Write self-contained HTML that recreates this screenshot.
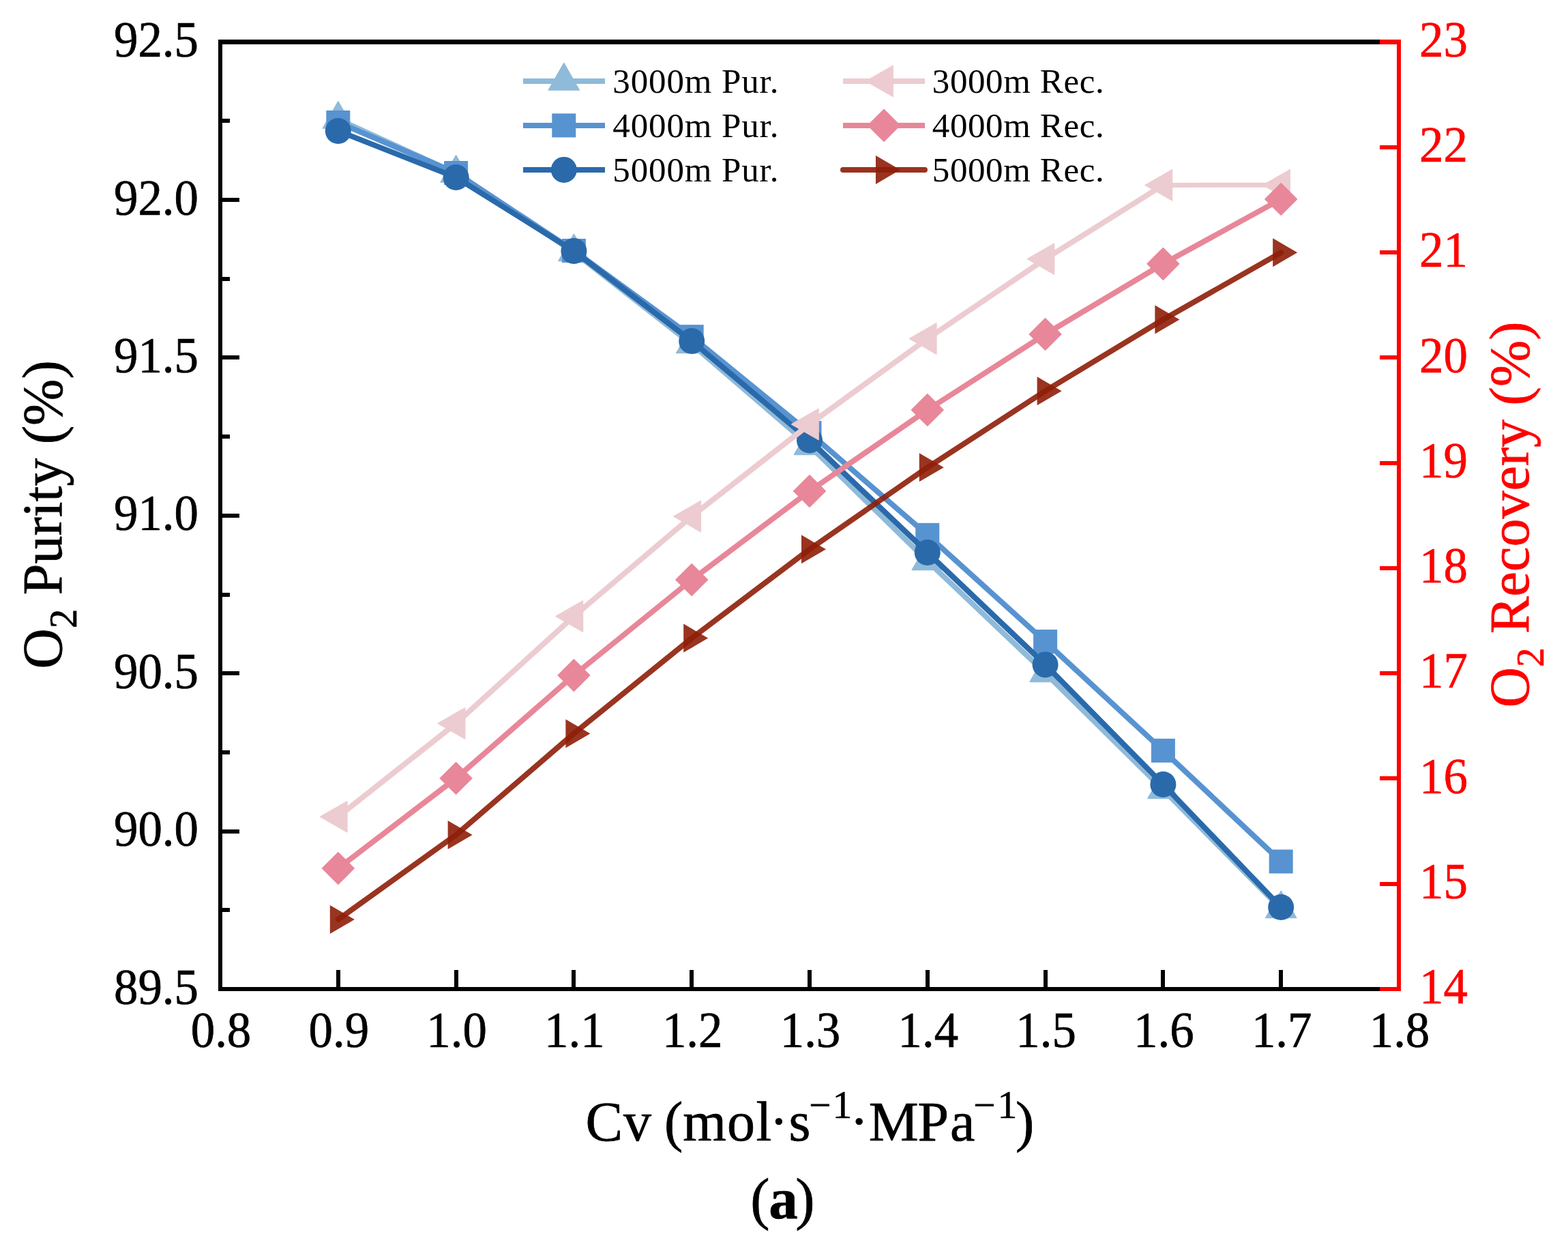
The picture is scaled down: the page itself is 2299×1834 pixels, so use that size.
<!DOCTYPE html>
<html><head><meta charset="utf-8"><title>O2 Purity and Recovery vs Cv</title>
<style>
html,body{margin:0;padding:0;background:#fff;}
svg{display:block;}
text{font-family:"Liberation Serif","Times New Roman",serif;fill:currentColor;stroke:currentColor;stroke-width:0.7px;}
text.lg{stroke:none;}
</style></head>
<body>
<svg width="2299" height="1834" viewBox="0 0 2299 1834">
<rect width="2299" height="1834" fill="#fff"/>
<g id="series">
<polyline points="495.8,175 668.6,254 841.4,369.5 1014.2,504.5 1187,653.3 1359.8,822.5 1532.6,986.5 1705.4,1157.5 1878.2,1332.5" fill="none" stroke="#8fbad9" stroke-width="8.0" stroke-linejoin="round"/>
<polygon points="495.8,148.8 473.3,188.1 518.3,188.1" fill="#8fbad9" stroke="#8fbad9" stroke-width="1.5" stroke-linejoin="round"/>
<polygon points="668.6,227.8 646.1,267.1 691.1,267.1" fill="#8fbad9" stroke="#8fbad9" stroke-width="1.5" stroke-linejoin="round"/>
<polygon points="841.4,343.3 818.9,382.6 863.9,382.6" fill="#8fbad9" stroke="#8fbad9" stroke-width="1.5" stroke-linejoin="round"/>
<polygon points="1014.2,478.3 991.7,517.6 1036.7,517.6" fill="#8fbad9" stroke="#8fbad9" stroke-width="1.5" stroke-linejoin="round"/>
<polygon points="1187,627.1 1164.5,666.4 1209.5,666.4" fill="#8fbad9" stroke="#8fbad9" stroke-width="1.5" stroke-linejoin="round"/>
<polygon points="1359.8,796.3 1337.3,835.6 1382.3,835.6" fill="#8fbad9" stroke="#8fbad9" stroke-width="1.5" stroke-linejoin="round"/>
<polygon points="1532.6,960.3 1510.1,999.6 1555.1,999.6" fill="#8fbad9" stroke="#8fbad9" stroke-width="1.5" stroke-linejoin="round"/>
<polygon points="1705.4,1131.3 1682.9,1170.6 1727.9,1170.6" fill="#8fbad9" stroke="#8fbad9" stroke-width="1.5" stroke-linejoin="round"/>
<polygon points="1878.2,1306.3 1855.7,1345.6 1900.7,1345.6" fill="#8fbad9" stroke="#8fbad9" stroke-width="1.5" stroke-linejoin="round"/>
<polyline points="495.8,179.5 668.6,253.5 841.4,367.5 1014.2,493.6 1187,634.6 1359.8,784.3 1532.6,940.5 1705.4,1100.4 1878.2,1263" fill="none" stroke="#5893d1" stroke-width="8.0" stroke-linejoin="round"/>
<rect x="478.3" y="162" width="35" height="35" fill="#5893d1"/>
<rect x="651.1" y="236" width="35" height="35" fill="#5893d1"/>
<rect x="823.9" y="350" width="35" height="35" fill="#5893d1"/>
<rect x="996.7" y="476.1" width="35" height="35" fill="#5893d1"/>
<rect x="1169.5" y="617.1" width="35" height="35" fill="#5893d1"/>
<rect x="1342.3" y="766.8" width="35" height="35" fill="#5893d1"/>
<rect x="1515.1" y="923" width="35" height="35" fill="#5893d1"/>
<rect x="1687.9" y="1082.9" width="35" height="35" fill="#5893d1"/>
<rect x="1860.7" y="1245.5" width="35" height="35" fill="#5893d1"/>
<polyline points="495.8,192 668.6,260 841.4,368 1014.2,500 1187,645.5 1359.8,810 1532.6,974.4 1705.4,1150 1878.2,1330" fill="none" stroke="#2a6aab" stroke-width="8.0" stroke-linejoin="round"/>
<circle cx="495.8" cy="192" r="19" fill="#2a6aab"/>
<circle cx="668.6" cy="260" r="19" fill="#2a6aab"/>
<circle cx="841.4" cy="368" r="19" fill="#2a6aab"/>
<circle cx="1014.2" cy="500" r="19" fill="#2a6aab"/>
<circle cx="1187" cy="645.5" r="19" fill="#2a6aab"/>
<circle cx="1359.8" cy="810" r="19" fill="#2a6aab"/>
<circle cx="1532.6" cy="974.4" r="19" fill="#2a6aab"/>
<circle cx="1705.4" cy="1150" r="19" fill="#2a6aab"/>
<circle cx="1878.2" cy="1330" r="19" fill="#2a6aab"/>
<polyline points="495.8,1197.3 668.6,1060.5 841.4,903.5 1014.2,757 1187,622 1359.8,496.5 1532.6,379.7 1705.4,271.4" fill="none" stroke="#ecccd0" stroke-width="8.0" stroke-linejoin="round"/>
<line x1="1705.4" y1="271.4" x2="1878.2" y2="271.3" stroke="#ecccd0" stroke-width="7"/>
<polygon points="469.6,1197.3 508.9,1174.8 508.9,1219.8" fill="#ecccd0" stroke="#ecccd0" stroke-width="1.5" stroke-linejoin="round"/>
<polygon points="642.4,1060.5 681.7,1038 681.7,1083" fill="#ecccd0" stroke="#ecccd0" stroke-width="1.5" stroke-linejoin="round"/>
<polygon points="815.2,903.5 854.5,881 854.5,926" fill="#ecccd0" stroke="#ecccd0" stroke-width="1.5" stroke-linejoin="round"/>
<polygon points="988,757 1027.3,734.5 1027.3,779.5" fill="#ecccd0" stroke="#ecccd0" stroke-width="1.5" stroke-linejoin="round"/>
<polygon points="1160.8,622 1200.1,599.5 1200.1,644.5" fill="#ecccd0" stroke="#ecccd0" stroke-width="1.5" stroke-linejoin="round"/>
<polygon points="1333.6,496.5 1372.9,474 1372.9,519" fill="#ecccd0" stroke="#ecccd0" stroke-width="1.5" stroke-linejoin="round"/>
<polygon points="1506.4,379.7 1545.7,357.2 1545.7,402.2" fill="#ecccd0" stroke="#ecccd0" stroke-width="1.5" stroke-linejoin="round"/>
<polygon points="1679.2,271.4 1718.5,248.9 1718.5,293.9" fill="#ecccd0" stroke="#ecccd0" stroke-width="1.5" stroke-linejoin="round"/>
<polygon points="1852,271.3 1891.3,248.8 1891.3,293.8" fill="#ecccd0" stroke="#ecccd0" stroke-width="1.5" stroke-linejoin="round"/>
<polyline points="495.8,1273 668.6,1141 841.4,990 1014.2,850 1187,720 1359.8,601 1532.6,490 1705.4,386.8 1878.2,292" fill="none" stroke="#e88799" stroke-width="8.0" stroke-linejoin="round"/>
<polygon points="495.8,1249.7 519.1,1273 495.8,1296.3 472.5,1273" fill="#e88799" stroke="#e88799" stroke-width="1.5" stroke-linejoin="round"/>
<polygon points="668.6,1117.7 691.9,1141 668.6,1164.3 645.3,1141" fill="#e88799" stroke="#e88799" stroke-width="1.5" stroke-linejoin="round"/>
<polygon points="841.4,966.7 864.7,990 841.4,1013.3 818.1,990" fill="#e88799" stroke="#e88799" stroke-width="1.5" stroke-linejoin="round"/>
<polygon points="1014.2,826.7 1037.5,850 1014.2,873.3 990.9,850" fill="#e88799" stroke="#e88799" stroke-width="1.5" stroke-linejoin="round"/>
<polygon points="1187,696.7 1210.3,720 1187,743.3 1163.7,720" fill="#e88799" stroke="#e88799" stroke-width="1.5" stroke-linejoin="round"/>
<polygon points="1359.8,577.7 1383.1,601 1359.8,624.3 1336.5,601" fill="#e88799" stroke="#e88799" stroke-width="1.5" stroke-linejoin="round"/>
<polygon points="1532.6,466.7 1555.9,490 1532.6,513.3 1509.3,490" fill="#e88799" stroke="#e88799" stroke-width="1.5" stroke-linejoin="round"/>
<polygon points="1705.4,363.5 1728.7,386.8 1705.4,410.1 1682.1,386.8" fill="#e88799" stroke="#e88799" stroke-width="1.5" stroke-linejoin="round"/>
<polygon points="1878.2,268.7 1901.5,292 1878.2,315.3 1854.9,292" fill="#e88799" stroke="#e88799" stroke-width="1.5" stroke-linejoin="round"/>
<polyline points="495.8,1348 668.6,1224 841.4,1075.4 1014.2,935.6 1187,805.3 1359.8,685.3 1532.6,573.2 1705.4,468.5 1878.2,370.3" fill="none" stroke="#8e1e08" stroke-width="8.0" stroke-linejoin="round" stroke-linecap="round" opacity="0.9"/>
<polygon points="519.8,1348 483.8,1327 483.8,1369" fill="#8e1e08" opacity="0.9"/>
<polygon points="692.6,1224 656.6,1203 656.6,1245" fill="#8e1e08" opacity="0.9"/>
<polygon points="865.4,1075.4 829.4,1054.4 829.4,1096.4" fill="#8e1e08" opacity="0.9"/>
<polygon points="1038.2,935.6 1002.2,914.6 1002.2,956.6" fill="#8e1e08" opacity="0.9"/>
<polygon points="1211,805.3 1175,784.3 1175,826.3" fill="#8e1e08" opacity="0.9"/>
<polygon points="1383.8,685.3 1347.8,664.3 1347.8,706.3" fill="#8e1e08" opacity="0.9"/>
<polygon points="1556.6,573.2 1520.6,552.2 1520.6,594.2" fill="#8e1e08" opacity="0.9"/>
<polygon points="1729.4,468.5 1693.4,447.5 1693.4,489.5" fill="#8e1e08" opacity="0.9"/>
<polygon points="1902.2,370.3 1866.2,349.3 1866.2,391.3" fill="#8e1e08" opacity="0.9"/>
</g>
<g id="frame" shape-rendering="crispEdges">
<rect x="320" y="58" width="1734" height="7" fill="#000"/>
<rect x="320" y="1447" width="1734" height="6" fill="#000"/>
<rect x="320" y="58" width="6" height="1395" fill="#000"/>
<line x1="323.0" y1="1450" x2="351.0" y2="1450" stroke="#000" stroke-width="6"/>
<line x1="323.0" y1="1218.6" x2="351.0" y2="1218.6" stroke="#000" stroke-width="6"/>
<line x1="323.0" y1="987.2" x2="351.0" y2="987.2" stroke="#000" stroke-width="6"/>
<line x1="323.0" y1="755.8" x2="351.0" y2="755.8" stroke="#000" stroke-width="6"/>
<line x1="323.0" y1="524.3" x2="351.0" y2="524.3" stroke="#000" stroke-width="6"/>
<line x1="323.0" y1="292.9" x2="351.0" y2="292.9" stroke="#000" stroke-width="6"/>
<line x1="323.0" y1="61.5" x2="351.0" y2="61.5" stroke="#000" stroke-width="6"/>
<line x1="323.0" y1="1334.3" x2="337.0" y2="1334.3" stroke="#000" stroke-width="6"/>
<line x1="323.0" y1="1102.9" x2="337.0" y2="1102.9" stroke="#000" stroke-width="6"/>
<line x1="323.0" y1="871.5" x2="337.0" y2="871.5" stroke="#000" stroke-width="6"/>
<line x1="323.0" y1="640" x2="337.0" y2="640" stroke="#000" stroke-width="6"/>
<line x1="323.0" y1="408.6" x2="337.0" y2="408.6" stroke="#000" stroke-width="6"/>
<line x1="323.0" y1="177.2" x2="337.0" y2="177.2" stroke="#000" stroke-width="6"/>
<line x1="323" y1="1450.0" x2="323" y2="1422.0" stroke="#000" stroke-width="6"/>
<line x1="495.8" y1="1450.0" x2="495.8" y2="1422.0" stroke="#000" stroke-width="6"/>
<line x1="668.6" y1="1450.0" x2="668.6" y2="1422.0" stroke="#000" stroke-width="6"/>
<line x1="841.4" y1="1450.0" x2="841.4" y2="1422.0" stroke="#000" stroke-width="6"/>
<line x1="1014.2" y1="1450.0" x2="1014.2" y2="1422.0" stroke="#000" stroke-width="6"/>
<line x1="1187" y1="1450.0" x2="1187" y2="1422.0" stroke="#000" stroke-width="6"/>
<line x1="1359.8" y1="1450.0" x2="1359.8" y2="1422.0" stroke="#000" stroke-width="6"/>
<line x1="1532.6" y1="1450.0" x2="1532.6" y2="1422.0" stroke="#000" stroke-width="6"/>
<line x1="1705.4" y1="1450.0" x2="1705.4" y2="1422.0" stroke="#000" stroke-width="6"/>
<line x1="1878.2" y1="1450.0" x2="1878.2" y2="1422.0" stroke="#000" stroke-width="6"/>
<line x1="2051" y1="1450.0" x2="2051" y2="1422.0" stroke="#000" stroke-width="6"/>
<rect x="2048" y="58" width="6" height="1395" fill="#f00"/>
<rect x="2023" y="1447" width="31" height="6" fill="#f00"/>
<line x1="2051.0" y1="1295.7" x2="2023.0" y2="1295.7" stroke="#f00" stroke-width="6"/>
<line x1="2051.0" y1="1141.4" x2="2023.0" y2="1141.4" stroke="#f00" stroke-width="6"/>
<line x1="2051.0" y1="987.2" x2="2023.0" y2="987.2" stroke="#f00" stroke-width="6"/>
<line x1="2051.0" y1="832.9" x2="2023.0" y2="832.9" stroke="#f00" stroke-width="6"/>
<line x1="2051.0" y1="678.6" x2="2023.0" y2="678.6" stroke="#f00" stroke-width="6"/>
<line x1="2051.0" y1="524.3" x2="2023.0" y2="524.3" stroke="#f00" stroke-width="6"/>
<line x1="2051.0" y1="370.1" x2="2023.0" y2="370.1" stroke="#f00" stroke-width="6"/>
<line x1="2051.0" y1="215.8" x2="2023.0" y2="215.8" stroke="#f00" stroke-width="6"/>
<rect x="2023" y="58" width="31" height="7" fill="#f00"/>
</g>
<g font-size="75" style="color:#000">
<text transform="translate(324,1535.3) scale(0.945,1)" text-anchor="middle">0.8</text>
<text transform="translate(496.8,1535.3) scale(0.945,1)" text-anchor="middle">0.9</text>
<text transform="translate(669.6,1535.3) scale(0.945,1)" text-anchor="middle">1.0</text>
<text transform="translate(842.4,1535.3) scale(0.945,1)" text-anchor="middle">1.1</text>
<text transform="translate(1015.2,1535.3) scale(0.945,1)" text-anchor="middle">1.2</text>
<text transform="translate(1188,1535.3) scale(0.945,1)" text-anchor="middle">1.3</text>
<text transform="translate(1360.8,1535.3) scale(0.945,1)" text-anchor="middle">1.4</text>
<text transform="translate(1533.6,1535.3) scale(0.945,1)" text-anchor="middle">1.5</text>
<text transform="translate(1706.4,1535.3) scale(0.945,1)" text-anchor="middle">1.6</text>
<text transform="translate(1879.2,1535.3) scale(0.945,1)" text-anchor="middle">1.7</text>
<text transform="translate(2052,1535.3) scale(0.945,1)" text-anchor="middle">1.8</text>
<text transform="translate(291,1471.6) scale(0.945,1)" text-anchor="end">89.5</text>
<text transform="translate(291,1240.2) scale(0.945,1)" text-anchor="end">90.0</text>
<text transform="translate(291,1008.8) scale(0.945,1)" text-anchor="end">90.5</text>
<text transform="translate(291,777.4) scale(0.945,1)" text-anchor="end">91.0</text>
<text transform="translate(291,545.9) scale(0.945,1)" text-anchor="end">91.5</text>
<text transform="translate(291,314.5) scale(0.945,1)" text-anchor="end">92.0</text>
<text transform="translate(291,83.1) scale(0.945,1)" text-anchor="end">92.5</text>
</g>
<g font-size="75" style="color:#f00">
<text transform="translate(2081,1471.2) scale(0.945,1)">14</text>
<text transform="translate(2081,1316.9) scale(0.945,1)">15</text>
<text transform="translate(2081,1162.6) scale(0.945,1)">16</text>
<text transform="translate(2081,1008.4) scale(0.945,1)">17</text>
<text transform="translate(2081,854.1) scale(0.945,1)">18</text>
<text transform="translate(2081,699.8) scale(0.945,1)">19</text>
<text transform="translate(2081,545.5) scale(0.945,1)">20</text>
<text transform="translate(2081,391.3) scale(0.945,1)">21</text>
<text transform="translate(2081,237) scale(0.945,1)">22</text>
<text transform="translate(2081,82.7) scale(0.945,1)">23</text>
</g>
<g font-size="51" style="color:#000">
<line x1="767" y1="118.9" x2="887" y2="118.9" stroke="#8fbad9" stroke-width="8"/>
<polygon points="826.8,92.7 804.3,132 849.3,132" fill="#8fbad9" stroke="#8fbad9" stroke-width="1.5" stroke-linejoin="round"/>
<text class="lg" x="898.3" y="136.1" textLength="243.1" lengthAdjust="spacing">3000m Pur.</text>
<line x1="767" y1="183.9" x2="887" y2="183.9" stroke="#5893d1" stroke-width="8"/>
<rect x="809.3" y="166.4" width="35" height="35" fill="#5893d1"/>
<text class="lg" x="898.3" y="201.1" textLength="243.1" lengthAdjust="spacing">4000m Pur.</text>
<line x1="767" y1="248.9" x2="887" y2="248.9" stroke="#2a6aab" stroke-width="8"/>
<circle cx="826.8" cy="248.9" r="19" fill="#2a6aab"/>
<text class="lg" x="898.3" y="266.1" textLength="243.1" lengthAdjust="spacing">5000m Pur.</text>
<line x1="1236" y1="118.9" x2="1356" y2="118.9" stroke="#ecccd0" stroke-width="8"/>
<polygon points="1269.8,118.9 1309.1,96.4 1309.1,141.4" fill="#ecccd0" stroke="#ecccd0" stroke-width="1.5" stroke-linejoin="round"/>
<text class="lg" x="1366.8" y="136.1" textLength="251.9" lengthAdjust="spacing">3000m Rec.</text>
<line x1="1236" y1="183.9" x2="1356" y2="183.9" stroke="#e88799" stroke-width="8"/>
<polygon points="1296,160.6 1319.3,183.9 1296,207.2 1272.7,183.9" fill="#e88799" stroke="#e88799" stroke-width="1.5" stroke-linejoin="round"/>
<text class="lg" x="1366.8" y="201.1" textLength="251.9" lengthAdjust="spacing">4000m Rec.</text>
<line x1="1236" y1="248.9" x2="1356" y2="248.9" stroke="#8e1e08" stroke-width="8" stroke-linecap="round" opacity="0.9"/>
<polygon points="1320,248.9 1284,227.9 1284,269.9" fill="#8e1e08" opacity="0.9"/>
<text class="lg" x="1366.8" y="266.1" textLength="251.9" lengthAdjust="spacing">5000m Rec.</text>
</g>
<text transform="translate(90,980.4) rotate(-90)" font-size="82" style="color:#000">O<tspan font-size="57" dy="22">2</tspan><tspan dy="-22"> Purity (%)</tspan></text>
<text transform="translate(2241,1037.3) rotate(-90)" font-size="82" style="color:#f00">O<tspan font-size="57" dy="22">2</tspan><tspan dy="-22"> Recovery (%)</tspan></text>
<text y="1672" font-size="82" style="color:#000"><tspan x="858.4">C</tspan><tspan x="913.9">v </tspan><tspan x="974.1">(</tspan><tspan x="1001.3">m</tspan><tspan x="1066">o</tspan><tspan x="1108.6">l</tspan><tspan x="1128.2">&#183;</tspan><tspan x="1156.5">s</tspan><tspan x="1186.3" font-size="57" dy="-33">&#8722;</tspan><tspan x="1220.7" font-size="57">1</tspan><tspan x="1246" dy="33">&#183;</tspan><tspan x="1273.8">M</tspan><tspan x="1345.6">P</tspan><tspan x="1393.1">a</tspan><tspan x="1427.2" font-size="57" dy="-33">&#8722;</tspan><tspan x="1462.8" font-size="57">1</tspan><tspan x="1489.1" dy="33">)</tspan></text>
<text y="1785.6" font-size="85" style="color:#000"><tspan x="1100.3">(</tspan><tspan x="1127.3" font-weight="bold">a</tspan><tspan x="1166.3">)</tspan></text>
</svg>
</body></html>
